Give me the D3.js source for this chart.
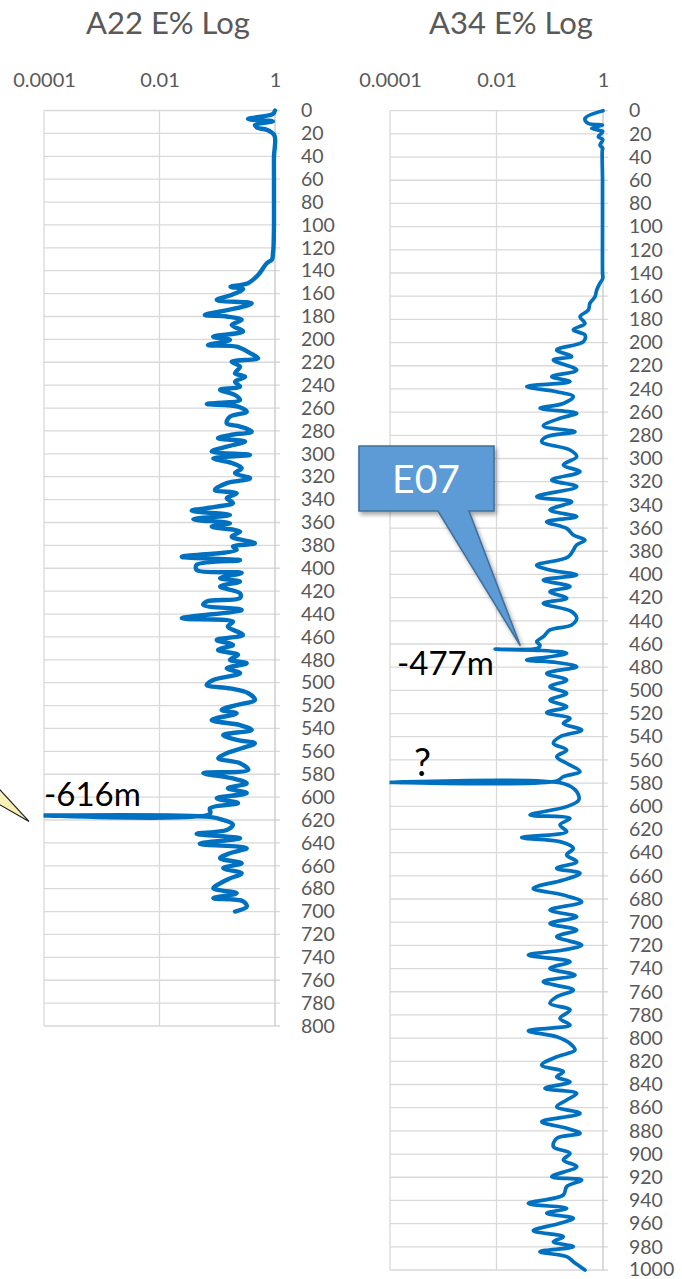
<!DOCTYPE html>
<html>
<head>
<meta charset="utf-8">
<script src="https://cdn.jsdelivr.net/npm/d3@7"></script>
<style>
  html, body { margin: 0; padding: 0; background: #ffffff; }
  svg { display: block; }
</style>
</head>
<body>
<svg id="chart" width="682" height="1279"></svg>
<script>
// Well A22: depth (m) and E fraction
const a22Depth = [0, 3, 7.4, 9.4, 12.7, 15, 17, 22, 40, 60, 80, 100, 120, 125, 130, 133.5, 143.7, 150.9, 154, 156, 161, 165.6, 168.5, 172.8, 178.7, 180, 183, 187.5, 193, 197.6, 200.5, 205, 206.4, 212, 216.5, 219.5, 223.8, 229.6, 232.6, 237, 241.3, 244, 248.6, 253, 256.4, 258.8, 263.2, 267.5, 273.3, 276.2, 280.6, 283.6, 286.4, 289.3, 293.7, 298, 301, 303.9, 308, 312.6, 317, 321.4, 325.6, 331.6, 334.5, 338.8, 343, 346.2, 349.7, 353.5, 357.2, 360.6, 363.6, 368, 372.4, 378.2, 381, 384, 390, 393, 397, 401.5, 404, 408.7, 411.6, 416, 421.9, 426, 429, 432, 436.4, 443.7, 446.6, 451, 458.3, 462.6, 467, 471.4, 475.7, 480, 483, 487.4, 491.7, 497.6, 502, 505, 509.2, 515, 519.5, 523.8, 526.7, 532.6, 537, 541.3, 545.7, 550, 553, 557.3, 561.6, 566, 570.4, 576.2, 579, 583.5, 588, 592.2, 596.5, 601, 605.3, 609.7, 614.5, 616, 617.3, 620, 624, 628.7, 632, 636, 640.7, 644.6, 649, 653.4, 657.8, 662, 666.6, 671, 675.3, 679.6, 684, 688.3, 691, 695.7, 700];
const a22E = [1.0, 0.92, 0.34, 0.92, 0.45, 0.49, 0.73, 0.98, 0.96, 0.96, 0.96, 0.96, 0.94, 0.92, 0.89, 0.72, 0.51, 0.34, 0.17, 0.28, 0.18, 0.098, 0.395, 0.217, 0.061, 0.146, 0.265, 0.178, 0.28, 0.085, 0.166, 0.069, 0.217, 0.369, 0.51, 0.178, 0.248, 0.203, 0.303, 0.203, 0.248, 0.112, 0.203, 0.248, 0.066, 0.229, 0.324, 0.166, 0.146, 0.248, 0.395, 0.166, 0.103, 0.303, 0.146, 0.08, 0.369, 0.0855, 0.178, 0.265, 0.203, 0.369, 0.146, 0.091, 0.217, 0.146, 0.187, 0.098, 0.036, 0.166, 0.0385, 0.166, 0.08, 0.248, 0.178, 0.45, 0.187, 0.217, 0.0243, 0.248, 0.044, 0.044, 0.265, 0.112, 0.248, 0.112, 0.248, 0.248, 0.0656, 0.0573, 0.265, 0.0243, 0.187, 0.153, 0.279, 0.098, 0.187, 0.103, 0.229, 0.166, 0.324, 0.146, 0.248, 0.0855, 0.0656, 0.166, 0.345, 0.45, 0.217, 0.119, 0.217, 0.08, 0.248, 0.395, 0.127, 0.217, 0.45, 0.265, 0.146, 0.104, 0.248, 0.345, 0.0573, 0.178, 0.324, 0.153, 0.324, 0.098, 0.229, 0.075, 0.075, 0.0001, 0.075, 0.127, 0.187, 0.146, 0.044, 0.248, 0.05, 0.324, 0.166, 0.112, 0.265, 0.127, 0.265, 0.166, 0.112, 0.0855, 0.217, 0.0855, 0.282, 0.324, 0.203];

// Well A34: depth (m) and E fraction
const a34Depth = [0, 6.6, 11, 12.4, 15.2, 18, 22.4, 25, 29.6, 32.5, 34, 60, 100, 140, 144.6, 148.8, 154.7, 160.5, 166, 172, 177.7, 183.4, 189, 193.5, 199.3, 206.4, 212, 215, 223.7, 229.4, 233.7, 238, 242.4, 246.7, 252.5, 256.7, 261, 265.3, 272, 276.9, 281.2, 285.5, 292.7, 298.4, 305.6, 311.4, 318.5, 324.3, 333, 337.3, 344.4, 350.2, 354.5, 360.3, 366, 370.4, 374.6, 384.7, 392, 396.2, 400.5, 404.8, 410.5, 414.9, 420.6, 424.9, 432.1, 437.9, 443.6, 447.9, 453.7, 458, 461, 463.6, 464.5, 465.5, 468, 471, 473.8, 476, 479.6, 485.4, 491.1, 496.8, 502.6, 508.4, 514.1, 519.3, 524.2, 528.5, 534.2, 540, 545.7, 551.4, 557.2, 562.9, 570.1, 574.4, 578.2, 579.3, 580.4, 587.4, 594.6, 600.3, 607.5, 610.4, 616.1, 621.9, 627, 630.5, 636.3, 642, 647.8, 653.5, 657.8, 663.6, 670.8, 676.6, 682.4, 689.5, 695.3, 701.1, 706.7, 712.5, 719.7, 724, 728.3, 734.1, 739.8, 745.6, 751.3, 758.5, 764.3, 770, 775.7, 782.9, 788.7, 793.6, 798.9, 804.6, 810.3, 816.1, 823.3, 829, 833.4, 837.7, 843.3, 847.6, 853.4, 859.1, 864.9, 872.1, 877.8, 882.1, 886.4, 893.6, 899.3, 905.1, 910.8, 919.5, 922.4, 928.1, 935.3, 942.5, 946.8, 951.1, 955.4, 959.7, 966.1, 971.3, 975.6, 979.9, 984.2, 988.5, 992.8, 1000];
const a34E = [1.0, 0.459, 0.53, 0.98, 0.613, 0.99, 0.816, 0.99, 0.878, 0.99, 0.97, 0.98, 0.98, 0.98, 0.99, 0.878, 0.762, 0.707, 0.57, 0.53, 0.37, 0.459, 0.277, 0.459, 0.427, 0.135, 0.258, 0.117, 0.321, 0.109, 0.24, 0.0369, 0.135, 0.277, 0.18, 0.0656, 0.321, 0.156, 0.0757, 0.298, 0.0877, 0.0706, 0.24, 0.321, 0.18, 0.37, 0.109, 0.321, 0.0569, 0.258, 0.101, 0.321, 0.0877, 0.208, 0.277, 0.459, 0.321, 0.223, 0.0569, 0.101, 0.321, 0.0757, 0.24, 0.101, 0.208, 0.0757, 0.258, 0.321, 0.258, 0.101, 0.0757, 0.0569, 0.0656, 0.06, 0.0094, 0.0656, 0.208, 0.101, 0.0369, 0.135, 0.321, 0.0877, 0.208, 0.101, 0.208, 0.101, 0.208, 0.0877, 0.24, 0.18, 0.398, 0.156, 0.117, 0.208, 0.135, 0.208, 0.37, 0.18, 0.135, 0.0001, 0.18, 0.321, 0.35, 0.208, 0.0426, 0.24, 0.156, 0.208, 0.0297, 0.156, 0.277, 0.208, 0.321, 0.135, 0.37, 0.18, 0.0491, 0.18, 0.398, 0.101, 0.321, 0.101, 0.321, 0.135, 0.398, 0.18, 0.0396, 0.24, 0.101, 0.298, 0.0757, 0.277, 0.135, 0.101, 0.24, 0.156, 0.24, 0.0396, 0.135, 0.24, 0.298, 0.135, 0.0706, 0.18, 0.135, 0.24, 0.0814, 0.321, 0.208, 0.135, 0.37, 0.0706, 0.208, 0.37, 0.135, 0.117, 0.24, 0.18, 0.321, 0.109, 0.398, 0.208, 0.18, 0.0396, 0.208, 0.0877, 0.277, 0.156, 0.0491, 0.18, 0.117, 0.277, 0.0656, 0.208, 0.277, 0.459];

// Shared axis definitions
const eTickValues = [0.0001, 0.01, 1];
const eTickLabels = ["0.0001", "0.01", "1"];
const depthStep = 20;

const FONT = "Lato, 'Open Sans', sans-serif";
const GRID = "#d9d9d9";
const TEXT_GRAY = "#595959";
const LINE_BLUE = "#0070c0";

const svg = d3.select("#chart");
svg.append("rect").attr("width", 682).attr("height", 1279).attr("fill", "#ffffff");

const defs = svg.append("defs");
const shadow = defs.append("filter").attr("id", "calloutShadow")
  .attr("x", "-20%").attr("y", "-20%").attr("width", "140%").attr("height", "140%");
shadow.append("feDropShadow").attr("dx", 2).attr("dy", 3).attr("stdDeviation", 2.2)
  .attr("flood-color", "#000").attr("flood-opacity", 0.35);

const yellowGrad = defs.append("linearGradient").attr("id", "wedgeFill")
  .attr("x1", "0").attr("y1", "0").attr("x2", "1").attr("y2", "1");
yellowGrad.append("stop").attr("offset", "0%").attr("stop-color", "#fbf7c8");
yellowGrad.append("stop").attr("offset", "100%").attr("stop-color", "#f3e9a0");

function drawWell(cfg) {
  const x = d3.scaleLog().domain([1e-4, 1]).range([cfg.x0, cfg.x1]);
  const y = d3.scaleLinear().domain([0, cfg.depthMax]).range([cfg.y0, cfg.y1]);
  const g = svg.append("g");

  // horizontal gridlines every 20 m, extended into tick marks on the right
  const depthTicks = d3.range(0, cfg.depthMax + 1, depthStep);
  g.append("g").selectAll("line").data(depthTicks).join("line")
    .attr("x1", cfg.x0).attr("x2", cfg.x1 + 5)
    .attr("y1", d => y(d)).attr("y2", d => y(d))
    .attr("stroke", GRID).attr("stroke-width", 1.3);

  // vertical gridlines at each labelled decade
  g.append("g").selectAll("line").data(eTickValues).join("line")
    .attr("x1", d => x(d)).attr("x2", d => x(d))
    .attr("y1", cfg.y0).attr("y2", cfg.y1)
    .attr("stroke", d => d === 1 ? "#c8c8c8" : GRID).attr("stroke-width", 1.3);

  // top axis labels
  const xAxis = d3.axisTop(x).tickValues(eTickValues)
    .tickFormat((d, i) => eTickLabels[i]).tickSize(0).tickPadding(24);
  const gx = g.append("g").attr("transform", `translate(0,${cfg.y0})`).call(xAxis);
  gx.select(".domain").remove();
  gx.selectAll("text").attr("font-family", FONT).attr("font-size", 20).attr("fill", TEXT_GRAY);

  // right depth axis labels
  const yAxis = d3.axisRight(y).tickValues(depthTicks).tickFormat(d3.format("d"))
    .tickSize(0).tickPadding(cfg.labelX - cfg.x1);
  const gy = g.append("g").attr("transform", `translate(${cfg.x1},0)`).call(yAxis);
  gy.select(".domain").remove();
  gy.selectAll("text").attr("font-family", FONT).attr("font-size", 19.5).attr("fill", TEXT_GRAY)
    .attr("dy", d => d === cfg.depthMax && cfg.depthMax === 1000 ? "0.27em" : "0.32em");

  // title
  g.append("text").attr("x", cfg.titleX).attr("y", 34)
    .attr("text-anchor", "middle").attr("font-family", FONT).attr("font-size", 31)
    .attr("fill", TEXT_GRAY).text(cfg.title);

  // log curve
  const clipId = "clip-" + cfg.id;
  defs.append("clipPath").attr("id", clipId).append("rect")
    .attr("x", cfg.x0 - 0.5).attr("y", cfg.y0 - 6)
    .attr("width", cfg.x1 - cfg.x0 + 8).attr("height", cfg.y1 - cfg.y0 + 12);

  const pts = cfg.depth.map((d, i) => ({ d, v: cfg.values[i] }));
  const line = d3.line().x(p => x(p.v)).y(p => y(p.d)).curve(d3.curveCatmullRom.alpha(0.5));
  g.append("path").datum(pts)
    .attr("clip-path", `url(#${clipId})`)
    .attr("d", line).attr("fill", "none")
    .attr("stroke", LINE_BLUE).attr("stroke-width", cfg.lineWidth)
    .attr("stroke-linejoin", "round").attr("stroke-linecap", "round");

  return { x, y, g };
}

// A22 panel
const left = drawWell({
  id: "a22", title: "A22 E% Log", titleX: 168,
  x0: 44, x1: 275, y0: 110.5, y1: 1026, depthMax: 800, labelX: 301,
  depth: a22Depth, values: a22E, lineWidth: 4.4
});

// A34 panel
const right = drawWell({
  id: "a34", title: "A34 E% Log", titleX: 511,
  x0: 390, x1: 603, y0: 110.7, y1: 1270, depthMax: 1000, labelX: 629,
  depth: a34Depth, values: a34E, lineWidth: 3.7
});

// annotations: A22
left.g.append("text").attr("x", left.x(0.0001)).attr("y", left.y(616) - 9)
  .attr("font-family", FONT).attr("font-size", 33).attr("fill", "#000").text("-616m");

const tipL = [left.x(0.0001) - 15, left.y(616) + 6];
svg.append("path")
  .attr("d", `M${tipL[0] - 35},${tipL[1] - 38} L${tipL[0]},${tipL[1]} L${tipL[0] - 35},${tipL[1] - 20} Z`)
  .attr("fill", "url(#wedgeFill)").attr("stroke", "#222").attr("stroke-width", 1.2)
  .attr("stroke-linejoin", "miter");

// annotations: A34
right.g.append("text").attr("x", 397).attr("y", right.y(477) + 11)
  .attr("font-family", FONT).attr("font-size", 33).attr("fill", "#000").text("-477m");
right.g.append("text").attr("x", 414).attr("y", right.y(579.3) - 6)
  .attr("font-family", FONT).attr("font-size", 38).attr("fill", "#000").text("?");

// E07 callout pointing at the spike
const tip = [right.x(0.028), right.y(461.5)];
const box = { x: 359, y: 446, w: 135, h: 65 };
const callout = svg.append("g").attr("filter", "url(#calloutShadow)");
callout.append("path")
  .attr("d", `M${box.x},${box.y} H${box.x + box.w} V${box.y + box.h} H${box.x + 110}` +
    ` L${tip[0]},${tip[1]} L${box.x + 79},${box.y + box.h} H${box.x} Z`)
  .attr("fill", "#5b9bd5").attr("stroke", "#41719c").attr("stroke-width", 1.6)
  .attr("stroke-linejoin", "miter");
svg.append("text").attr("x", box.x + 67).attr("y", box.y + 47)
  .attr("text-anchor", "middle").attr("font-family", FONT).attr("font-size", 39)
  .attr("fill", "#ffffff").text("E07");
</script>
</body>
</html>
